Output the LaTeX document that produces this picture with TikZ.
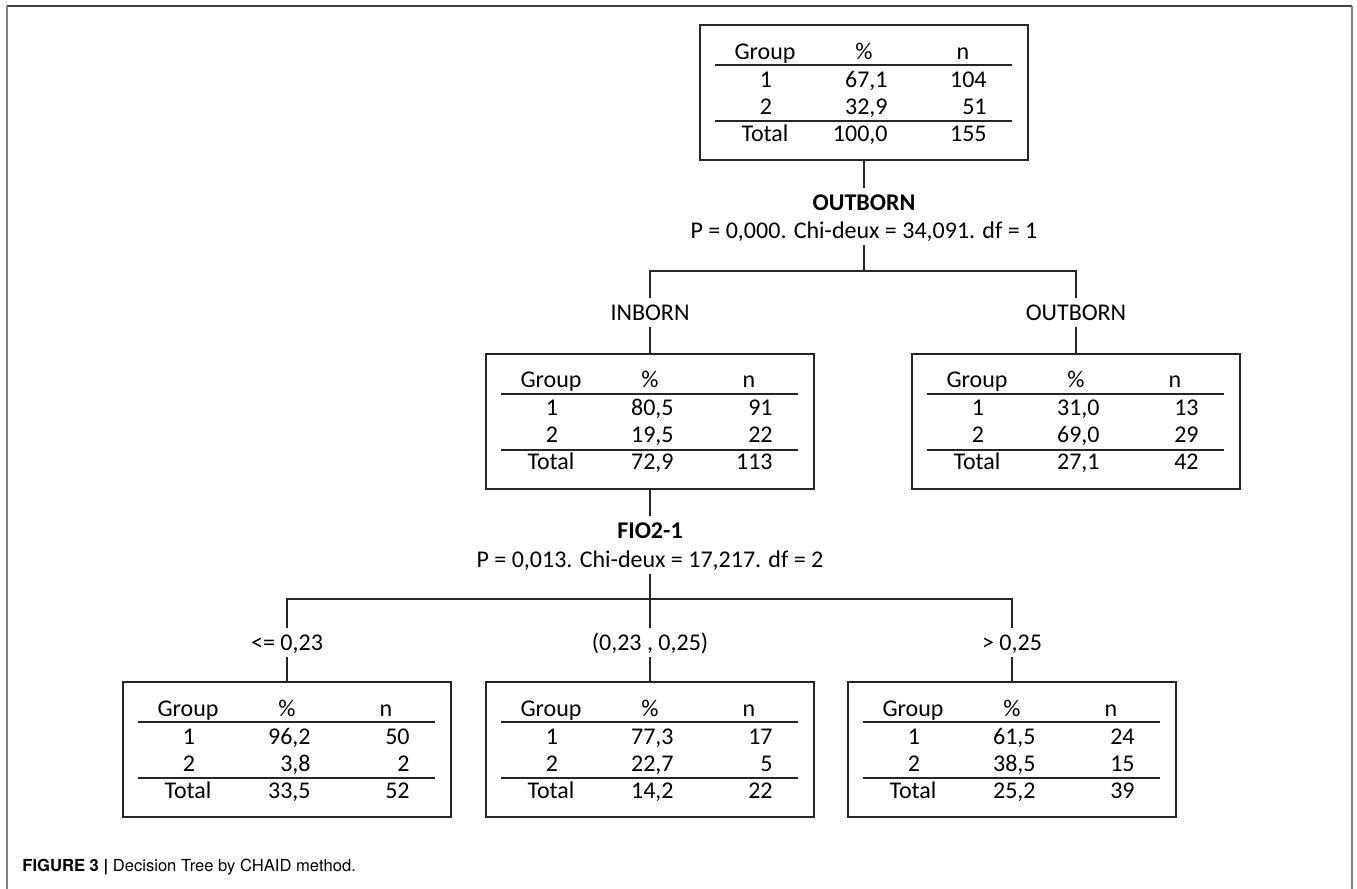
\documentclass[tikz,border=0pt]{standalone}
\usepackage{fontspec}
\setmainfont{Carlito}
\newfontfamily\capfont{TeX Gyre Heros}

\tikzset{
  chaidbox/.style={draw=black!85, line width=1pt, minimum width=164pt, minimum height=67.5pt, inner sep=0pt},
  cell/.style={anchor=base, inner sep=0pt, font=\fontsize{12}{14}\selectfont},
  cellr/.style={cell, anchor=base east},
  rule/.style={line width=1pt, black!85},
  lbl/.style={anchor=base, inner xsep=2pt, inner ysep=3.5pt, text height=7.5pt, text depth=0pt, font=\fontsize{12}{14}\selectfont},
  splitlbl/.style={lbl, font=\fontsize{12}{14}\selectfont\bfseries},
  conn/.style={line width=1pt, black!85},
}

% table inside a box: #1 box name, then % and n for groups 1, 2 and total
\newcommand{\chaidtable}[7]{%
  \begin{scope}[shift={(#1.north west)}]
    \node[cell] at (66,35) {Group};
    \node[cell] at (165,35) {\%};
    \node[cell] at (264,35) {n};
    \draw[rule] (16,41) -- (313,41);
    \node[cell] at (67,63) {1};
    \node[cellr] at (189,63) {#2};
    \node[cellr] at (288,63) {#3};
    \node[cell] at (67,90) {2};
    \node[cellr] at (189,90) {#4};
    \node[cellr] at (288,90) {#5};
    \draw[rule] (16,97) -- (313,97);
    \node[cell] at (66,117) {Total};
    \node[cellr] at (189,117) {#6};
    \node[cellr] at (288,117) {#7};
  \end{scope}}

\begin{document}
\begin{tikzpicture}[x=0.5pt, y=-0.5pt]
  \useasboundingbox (0,0) rectangle (1357,889);

  %%%%% frame %%%%%
  \draw[black!75, line width=1pt] (7,6) -- (1352,6);
  \draw[black!50, line width=1pt] (7,6) -- (7,889) (1352,6) -- (1352,889);

  %%%%% root %%%%%
  \node[chaidbox] (root) at (864,92.5) {};
  \chaidtable{root}{67,1}{104}{32,9}{51}{100,0}{155}

  \node[splitlbl] (split1) at (864,210) {OUTBORN};
  \node[lbl] (stat1) at (864,238) {P = 0,000. Chi-deux = 34,091. df = 1};
  \coordinate (bar1) at (864,271);

  \node[lbl] (lblin) at (650,320) {INBORN};
  \node[lbl] (lblout) at (1076,320) {OUTBORN};

  \node[chaidbox] (inborn) at (650,421) {};
  \chaidtable{inborn}{80,5}{91}{19,5}{22}{72,9}{113}
  \node[chaidbox] (outborn) at (1076,421) {};
  \chaidtable{outborn}{31,0}{13}{69,0}{29}{27,1}{42}

  %%%%% second split %%%%%
  \node[splitlbl] (split2) at (650,538) {FIO2-1};
  \node[lbl] (stat2) at (650,567) {P = 0,013. Chi-deux = 17,217. df = 2};
  \coordinate (bar2) at (650,599);

  \node[lbl] (lbllow) at (287,650) {<= 0,23};
  \node[lbl] (lblmid) at (650,650) {(0,23 , 0,25)};
  \node[lbl] (lblhigh) at (1012,650) {> 0,25};

  \node[chaidbox] (lowfio) at (287,749.5) {};
  \chaidtable{lowfio}{96,2}{50}{3,8}{2}{33,5}{52}
  \node[chaidbox] (midfio) at (650,749.5) {};
  \chaidtable{midfio}{77,3}{17}{22,7}{5}{14,2}{22}
  \node[chaidbox] (highfio) at (1012,749.5) {};
  \chaidtable{highfio}{61,5}{24}{38,5}{15}{25,2}{39}

  %%%%% connectors %%%%%
  \draw[conn] (root.south) -- (split1.north);
  \draw[conn] (stat1.south) -- (bar1);
  \draw[conn] (lblin.north) |- (bar1) -| (lblout.north);
  \draw[conn] (lblin.south) -- (inborn.north);
  \draw[conn] (lblout.south) -- (outborn.north);

  \draw[conn] (inborn.south) -- (split2.north);
  \draw[conn] (stat2.south) -- (bar2);
  \draw[conn] (lbllow.north) |- (bar2) -| (lblhigh.north);
  \draw[conn] (bar2) -- (lblmid.north);
  \draw[conn] (lbllow.south) -- (lowfio.north);
  \draw[conn] (lblmid.south) -- (midfio.north);
  \draw[conn] (lblhigh.south) -- (highfio.north);

  %%%%% caption %%%%%
  \node[anchor=base west, inner sep=0pt, font=\capfont\fontsize{8.3}{10}\selectfont] (caption) at (22,871)
    {\textbf{FIGURE 3 |} Decision Tree by CHAID method.};
\end{tikzpicture}
\end{document}
